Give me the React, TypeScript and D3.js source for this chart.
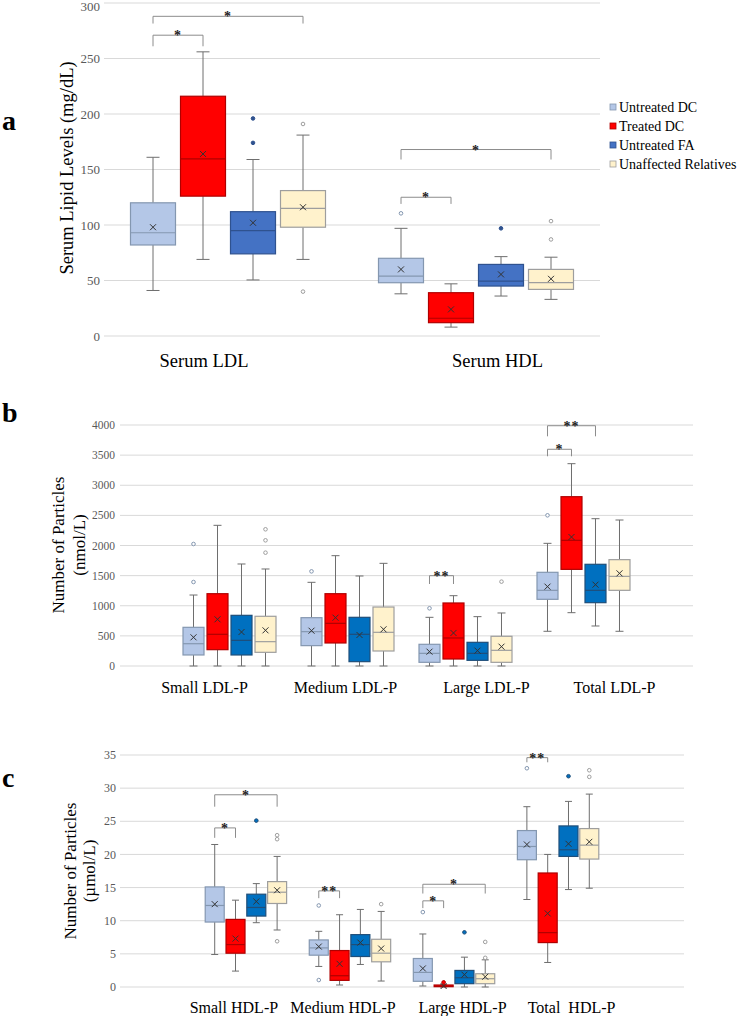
import React from "react";
import * as d3 from "d3";

// ---------------- DATA ----------------
const seriesNames = ["Untreated DC", "Treated DC", "Untreated FA", "Unaffected Relatives"];

// box stats per category: [min, q1, median, q3, max, mean]
const aCategories = ["Serum LDL", "Serum HDL"];
const aTicks = [0, 50, 100, 150, 200, 250, 300];
const aUntreatedDC = [[41, 82, 93, 120, 161, 98], [38, 48, 54, 70, 97, 60]];
const aTreatedDC = [[69, 126, 159.5, 216, 256, 164], [8, 12, 16, 39, 47, 24]];
const aUntreatedFA = [[50.5, 74, 95, 112, 159, 102], [36, 45, 49.5, 64.5, 71.5, 55.5]];
const aUnaffected = [[69, 98, 115, 131, 181, 116], [33, 42, 48, 60, 71, 51.5]];
const aUntreatedDCOut = [[], [110.5]];
const aTreatedDCOut = [[], []];
const aUntreatedFAOut = [[196, 174], [97]];
const aUnaffectedOut = [[191, 40], [103.5, 87]];
// [category, series from, series to, bracket level, leg end, label]
const aBrackets = [
  [0, 0, 1, 271, 261, "*"],
  [0, 0, 3, 288, 281.5, "*"],
  [1, 0, 3, 168, 159, "*"],
  [1, 0, 1, 125, 119, "*"],
];

const bCategories = ["Small LDL-P", "Medium LDL-P", "Large LDL-P", "Total LDL-P"];
const bTicks = [0, 500, 1000, 1500, 2000, 2500, 3000, 3500, 4000];
const bUntreatedDC = [[0, 183, 370, 642, 1178, 476], [0, 338, 570, 802, 1389, 586], [0, 61, 210, 360, 808, 238], [576, 1107, 1256, 1555, 2036, 1317]];
const bTreatedDC = [[0, 271, 526, 1200, 2335, 775], [0, 382, 708, 1200, 1831, 802], [0, 116, 465, 1046, 1167, 548], [885, 1604, 2086, 2810, 3358, 2141]];
const bUntreatedFA = [[0, 183, 426, 841, 1693, 564], [0, 72, 526, 808, 1494, 515], [0, 94, 210, 393, 819, 255], [664, 1051, 1256, 1688, 2445, 1350]];
const bUnaffected = [[0, 227, 404, 825, 1610, 592], [0, 249, 559, 979, 1704, 609], [0, 61, 260, 493, 880, 321], [576, 1256, 1488, 1765, 2423, 1538]];
const bUntreatedDCOut = [[2025, 1394], [1571], [958], [2501]];
const bTreatedDCOut = [[], [], [], []];
const bUntreatedFAOut = [[], [], [], []];
const bUnaffectedOut = [[2269, 2086, 1881], [], [1400], []];
const bBrackets = [
  [2, 0, 1, 1499, 1361, "**"],
  [3, 0, 1, 3597, 3481, "*"],
  [3, 0, 2, 3988, 3812, "**"],
];

const cCategories = ["Small HDL-P", "Medium HDL-P", "Large HDL-P", "Total  HDL-P"];
const cTicks = [0, 5, 10, 15, 20, 25, 30, 35];
const cUntreatedDC = [[4.9, 9.8, 12.3, 15.1, 21.5, 12.5], [3.1, 4.8, 5.9, 7.1, 8.4, 6.1], [0.15, 0.86, 2.2, 4.3, 8.0, 2.8], [13.2, 19.2, 21.2, 23.6, 27.2, 21.5]];
const cTreatedDC = [[2.4, 5.1, 6.4, 10.2, 13.1, 7.3], [0.3, 1.0, 1.7, 5.5, 10.9, 3.5], [0, 0.05, 0.1, 0.3, 0.35, 0.15], [3.7, 6.7, 8.2, 17.2, 20.0, 11.1]];
const cUntreatedFA = [[9.7, 10.7, 12.0, 14.0, 15.6, 12.9], [3.4, 4.6, 6.4, 7.9, 11.7, 6.7], [0, 0.5, 1.4, 2.5, 4.5, 1.86], [14.7, 19.7, 20.7, 24.3, 28.0, 21.6]];
const cUnaffected = [[8.6, 12.6, 14.3, 15.9, 19.7, 14.6], [0.9, 3.8, 5.1, 7.2, 11.4, 5.8], [0, 0.5, 1.25, 2.0, 4.1, 1.55], [14.9, 19.3, 21.4, 23.9, 29.1, 21.9]];
const cUntreatedDCOut = [[], [12.3, 1.05], [11.3], [33.0]];
const cTreatedDCOut = [[], [], [0.7], []];
const cUntreatedFAOut = [[25.1], [], [8.25], [31.8]];
const cUnaffectedOut = [[22.9, 22.3, 6.9], [12.5], [6.8, 4.4], [32.7, 31.7]];
const cBrackets = [
  [0, 0, 3, 29.0, 27.2, "*"],
  [0, 0, 1, 24.0, 22.5, "*"],
  [1, 0, 1, 14.5, 13.4, "**"],
  [2, 0, 3, 15.5, 14.1, "*"],
  [2, 0, 1, 13.0, 11.9, "*"],
  [3, 0, 1, 34.6, 33.9, "**"],
];

// ---------------- STYLE ----------------
const FONT = "'Liberation Serif', 'Times New Roman', serif";
const fillsA = ["#B4C7E7", "#FF0000", "#4472C4", "#FFF2CC"];
const fillsBC = ["#B4C7E7", "#FF0000", "#0070C0", "#FFF2CC"];
const strokesA = ["#8497B0", "#B00000", "#2F528F", "#9E9E9E"];
const strokesBC = ["#8497B0", "#B00000", "#1F4E79", "#9E9E9E"];
const outFillsA = ["#FFFFFF", "#FF0000", "#2F528F", "#FFFFFF"];
const outFillsBC = ["#FFFFFF", "#FF0000", "#0070C0", "#FFFFFF"];

type PanelCfg = {
  letter: string;
  letterY: number;
  categories: string[];
  ticks: number[];
  series: number[][][];
  outliers: number[][][];
  brackets: any[];
  yDomain: [number, number];
  yRange: [number, number];
  xRange: [number, number];
  paddingOuter: number;
  boxStep: number;
  boxWidth: number;
  capWidth: number;
  tickX: number;
  tickSize: number;
  titleLines: string[];
  titleX: number[];
  titleY: number;
  titleSize: number;
  labelOffsets: number[];
  labelY: number;
  labelSize: number;
  fills: string[];
  strokes: string[];
  outFills: string[];
};

function Panel({ cfg }: { cfg: PanelCfg }) {
  const y = d3.scaleLinear().domain(cfg.yDomain).range(cfg.yRange);
  const x = d3.scaleBand<string>().domain(cfg.categories).range(cfg.xRange).paddingInner(0).paddingOuter(cfg.paddingOuter);
  const groupW = cfg.boxStep * seriesNames.length;
  const inner = d3.scaleBand<string>().domain(seriesNames).range([-groupW / 2, groupW / 2]).padding(0);
  const cx = (ci: number, si: number) =>
    (x(cfg.categories[ci]) as number) + x.bandwidth() / 2 + (inner(seriesNames[si]) as number) + inner.bandwidth() / 2;
  const bw = cfg.boxWidth;
  return (
    <g>
      <text x={2} y={cfg.letterY} fontFamily={FONT} fontWeight="bold" fontSize={28} fill="#000">{cfg.letter}</text>
      {cfg.ticks.map((t) => (
        <g key={t}>
          <line x1={cfg.xRange[0]} x2={cfg.xRange[1]} y1={y(t)} y2={y(t)} stroke="#D9D9D9" strokeWidth={1} />
          <text x={cfg.tickX} y={Math.max(y(t), 6)} dy="0.35em" textAnchor="end" fontFamily={FONT} fontSize={cfg.tickSize} fill="#595959">{t}</text>
        </g>
      ))}
      {cfg.titleLines.map((t, i) => (
        <text key={i} transform={`translate(${cfg.titleX[i]},${cfg.titleY}) rotate(-90)`} textAnchor="middle" fontFamily={FONT} fontSize={cfg.titleSize} fill="#000">{t}</text>
      ))}
      {cfg.categories.map((c, ci) => (
        <text key={c} x={(x(c) as number) + x.bandwidth() / 2 + cfg.labelOffsets[ci]} y={cfg.labelY} textAnchor="middle" fontFamily={FONT} fontSize={cfg.labelSize} fill="#000" style={{ whiteSpace: "pre" }}>{c}</text>
      ))}
      {cfg.series.map((ser, si) =>
        ser.map((s, ci) => {
          const [mn, q1, md, q3, mx, mean] = s;
          const c = cx(ci, si);
          const st = cfg.strokes[si];
          return (
            <g key={`${si}-${ci}`}>
              <line x1={c} x2={c} y1={y(mx)} y2={y(q3)} stroke="#6E6E6E" strokeWidth={1} />
              <line x1={c} x2={c} y1={y(q1)} y2={y(mn)} stroke="#6E6E6E" strokeWidth={1} />
              <line x1={c - cfg.capWidth / 2} x2={c + cfg.capWidth / 2} y1={y(mx)} y2={y(mx)} stroke="#6E6E6E" strokeWidth={1} />
              <line x1={c - cfg.capWidth / 2} x2={c + cfg.capWidth / 2} y1={y(mn)} y2={y(mn)} stroke="#6E6E6E" strokeWidth={1} />
              <rect x={c - bw / 2} y={y(q3)} width={bw} height={Math.max(1, y(q1) - y(q3))} fill={cfg.fills[si]} stroke={st} strokeWidth={1.2} />
              <line x1={c - bw / 2} x2={c + bw / 2} y1={y(md)} y2={y(md)} stroke={st} strokeWidth={1.2} />
              <path d={`M${c - 3},${y(mean) - 3}L${c + 3},${y(mean) + 3}M${c - 3},${y(mean) + 3}L${c + 3},${y(mean) - 3}`} stroke="#333" strokeWidth={1} />
              {cfg.outliers[si][ci].map((o, oi) => (
                <circle key={oi} cx={c} cy={y(o)} r={1.8} fill={cfg.outFills[si]} stroke={st} strokeWidth={1} />
              ))}
            </g>
          );
        })
      )}
      {cfg.brackets.map((b, bi) => {
        const [ci, s1, s2, top, leg, label] = b;
        const x1 = cx(ci, s1);
        const x2 = cx(ci, s2);
        const yt = y(top);
        const yl = y(leg);
        return (
          <g key={bi}>
            <path d={`M${x1},${yl}V${yt}H${x2}V${yl}`} fill="none" stroke="#8C8C8C" strokeWidth={1} />
            <text x={(x1 + x2) / 2} y={yt + 5} textAnchor="middle" fontFamily={FONT} fontWeight="bold" fontSize={14} fill="#222" letterSpacing={1}>{label}</text>
          </g>
        );
      })}
    </g>
  );
}

const panelA: PanelCfg = {
  letter: "a", letterY: 130,
  categories: aCategories, ticks: aTicks,
  series: [aUntreatedDC, aTreatedDC, aUntreatedFA, aUnaffected],
  outliers: [aUntreatedDCOut, aTreatedDCOut, aUntreatedFAOut, aUnaffectedOut],
  brackets: aBrackets,
  yDomain: [0, 300], yRange: [336, 3], xRange: [104, 600], paddingOuter: 0,
  boxStep: 50, boxWidth: 45, capWidth: 13, tickX: 100, tickSize: 13,
  titleLines: ["Serum Lipid Levels (mg/dL)"], titleX: [73], titleY: 168, titleSize: 18.5,
  labelOffsets: [-24, 21.5], labelY: 367, labelSize: 18.5,
  fills: fillsA, strokes: strokesA, outFills: outFillsA,
};

const panelB: PanelCfg = {
  letter: "b", letterY: 422,
  categories: bCategories, ticks: bTicks,
  series: [bUntreatedDC, bTreatedDC, bUntreatedFA, bUnaffected],
  outliers: [bUntreatedDCOut, bTreatedDCOut, bUntreatedFAOut, bUnaffectedOut],
  brackets: bBrackets,
  yDomain: [0, 4000], yRange: [666, 425], xRange: [120, 693], paddingOuter: 0.428,
  boxStep: 24, boxWidth: 21, capWidth: 8, tickX: 115, tickSize: 11.5,
  titleLines: ["Number of Particles", "(nmol/L)"], titleX: [63.5, 84.5], titleY: 545, titleSize: 17,
  labelOffsets: [-25, -2, 21, 31], labelY: 693, labelSize: 16,
  fills: fillsBC, strokes: strokesBC, outFills: outFillsBC,
};

const panelC: PanelCfg = {
  letter: "c", letterY: 787,
  categories: cCategories, ticks: cTicks,
  series: [cUntreatedDC, cTreatedDC, cUntreatedFA, cUnaffected],
  outliers: [cUntreatedDCOut, cTreatedDCOut, cUntreatedFAOut, cUnaffectedOut],
  brackets: cBrackets,
  yDomain: [0, 35], yRange: [987, 755], xRange: [120, 684], paddingOuter: 0.71,
  boxStep: 20.8, boxWidth: 19, capWidth: 7, tickX: 116, tickSize: 12,
  titleLines: ["Number of Particles", "(µmol/L)"], titleX: [76, 95], titleY: 871, titleSize: 17,
  labelOffsets: [-12, -7, 8.5, 13.5], labelY: 1013, labelSize: 16,
  fills: fillsBC, strokes: strokesBC, outFills: outFillsBC,
};

function Legend() {
  const rowY = d3.scalePoint<string>().domain(seriesNames).range([107, 164]);
  return (
    <g>
      {seriesNames.map((s, i) => (
        <g key={s}>
          <rect x={610} y={(rowY(s) as number) - 3} width={6} height={6} fill={fillsA[i]} stroke={strokesA[i]} strokeWidth={0.8} />
          <text x={619} y={(rowY(s) as number) + 5} fontFamily={FONT} fontSize={14} fill="#000">{s}</text>
        </g>
      ))}
    </g>
  );
}

export default function App() {
  return (
    <svg width={737} height={1016} viewBox="0 0 737 1016" style={{ position: "absolute", left: 0, top: 0, background: "#fff" }}>
      <rect width={737} height={1016} fill="#fff" />
      <Panel cfg={panelA} />
      <Legend />
      <Panel cfg={panelB} />
      <Panel cfg={panelC} />
    </svg>
  );
}
